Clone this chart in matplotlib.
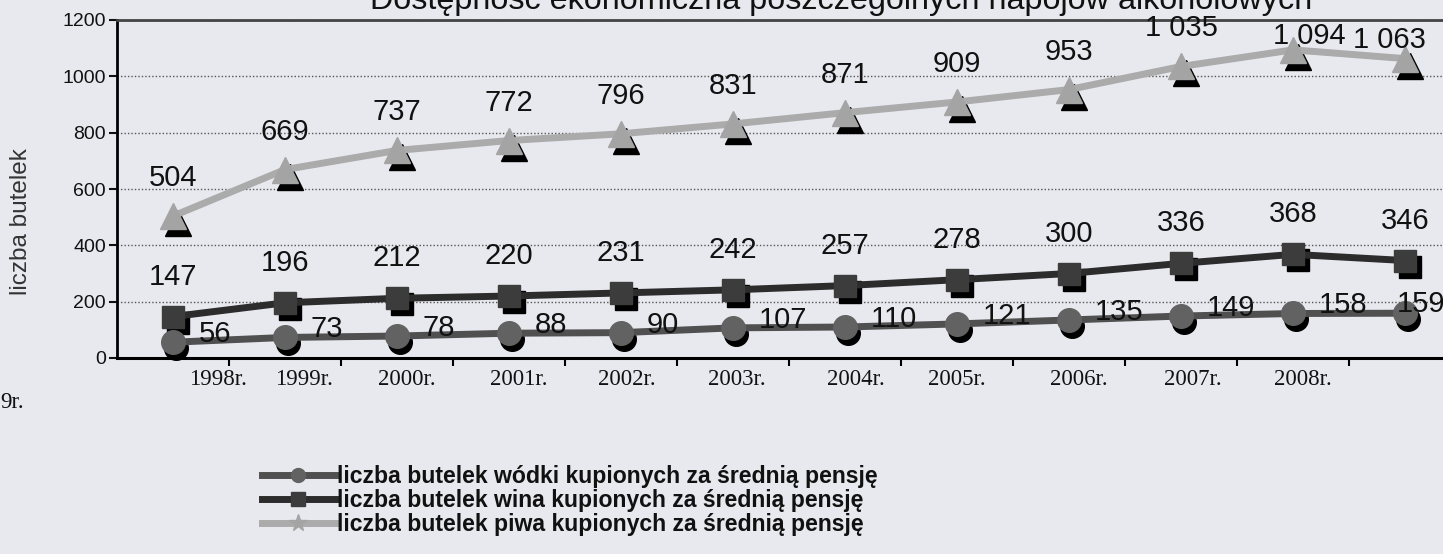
import numpy as np
import matplotlib
matplotlib.use("Agg")
import matplotlib.pyplot as plt
from matplotlib.transforms import offset_copy, ScaledTranslation
from matplotlib.lines import Line2D

# ---------------- data ----------------
years = ["1998r.", "1999r.", "2000r.", "2001r.", "2002r.", "2003r.",
         "2004r.", "2005r.", "2006r.", "2007r.", "2008r.", "2009r."]
vodka = [56, 73, 78, 88, 90, 107, 110, 121, 135, 149, 158, 159]
wine = [147, 196, 212, 220, 231, 242, 257, 278, 300, 336, 368, 346]
beer = [504, 669, 737, 772, 796, 831, 871, 909, 953, 1035, 1094, 1063]
y_ticks = [0, 200, 400, 600, 800, 1000, 1200]
title = "Dostępność ekonomiczna poszczególnych napojów alkoholowych"
ylabel = "liczba butelek"
wrapped_label = "9r."   # tail of the last year's label, wrapped to the left edge
legend_labels = ["liczba butelek wódki kupionych za średnią pensję",
                 "liczba butelek wina kupionych za średnią pensję",
                 "liczba butelek piwa kupionych za średnią pensję"]

# ---------------- style ----------------
W, H = 1443, 554
BG = "#e8e9ef"
plt.rcParams["font.family"] = ["Liberation Sans", "DejaVu Sans"]

def fmt(v):
    return f"{v:,}".replace(",", " ")

fig = plt.figure(figsize=(W / 100, H / 100), dpi=100)
fig.patch.set_facecolor(BG)
ax = fig.add_axes([117 / W, 1 - 358 / H, 1344 / W, 338 / H])
ax.set_facecolor(BG)

x = np.arange(len(years))
ax.set_xlim(-0.5, len(years) - 0.5)
ax.set_ylim(0, 1200)

def shadow(vals, marker, ms, dx, dy, z):
    tr = offset_copy(ax.transData, fig=fig, x=dx, y=dy, units="dots")
    ax.plot(x, vals, ls="none", marker=marker, ms=ms, color="black",
            mec="black", transform=tr, zorder=z, clip_on=False)

# beer
shadow(beer, "^", 19, 5, -7, 3)
ax.plot(x, beer, color="#ababab", lw=5, marker="^", ms=19, mfc="#a4a4a4",
        mec="#a4a4a4", zorder=4, clip_on=False)
# wine
shadow(wine, "s", 16, 5, -6, 5)
ax.plot(x, wine, color="#2c2c2c", lw=5, marker="s", ms=16, mfc="#3c3c3c",
        mec="#3c3c3c", zorder=6, clip_on=False)
# vodka
shadow(vodka, "o", 17, 3, -6, 7)
ax.plot(x, vodka, color="#505050", lw=5, marker="o", ms=17, mfc="#626262",
        mec="#626262", zorder=8, clip_on=False)

# data labels
lab_fs = 21
for i, v in enumerate(beer):
    off = (0, 38)
    if i == 10:
        off = (16, 14)
    if i == 11:
        off = (-16, 19)
    ax.annotate(fmt(v), (x[i], v), xytext=off, textcoords="offset pixels",
                ha="center", va="center", fontsize=lab_fs, color="#111111",
                zorder=10, annotation_clip=False)
for i, v in enumerate(wine):
    ax.annotate(fmt(v), (x[i], v), xytext=(0, 40), textcoords="offset pixels",
                ha="center", va="center", fontsize=lab_fs, color="#111111",
                zorder=10, annotation_clip=False)
for i, v in enumerate(vodka):
    off = (26, 8) if i < len(vodka) - 1 else (-8, 9)
    ax.annotate(fmt(v), (x[i], v), xytext=off, textcoords="offset pixels",
                ha="left", va="center", fontsize=lab_fs, color="#111111",
                zorder=10, annotation_clip=False)

# axes styling
ax.spines["right"].set_visible(False)
ax.spines["left"].set_linewidth(2)
ax.spines["bottom"].set_linewidth(2.2)
ax.spines["top"].set_linewidth(2)
ax.spines["top"].set_color("#444444")
ax.set_yticks(y_ticks)
ax.set_yticklabels([str(t) for t in y_ticks])
ax.tick_params(axis="y", direction="out", length=6, width=1.5, pad=2,
               labelsize=14, colors="#111111")
ax.yaxis.grid(True, ls=(0, (1, 1.5)), color="#555555", lw=1)
ax.set_axisbelow(True)

# x: boundary ticks, labels at category centres
ax.set_xticks(x[:-1] + 0.5)
ax.set_xticklabels([])
ax.tick_params(axis="x", which="major", direction="out", length=6, width=1.5)
ax.set_xticks(x[:-1], minor=True)
ax.set_xticklabels(years[:-1], minor=True, fontfamily="Liberation Serif",
                   fontsize=16.5)
ax.tick_params(axis="x", which="minor", length=0, pad=8, colors="#111111")
nudges = [45, 19, 10, 10, 6, 4, 11, 0, 10, 12, 10]
for lab, dx in zip(ax.get_xticklabels(minor=True), nudges):
    lab.set_transform(lab.get_transform() +
                      ScaledTranslation(dx / 100, 0, fig.dpi_scale_trans))
fig.text(0 / W, 1 - 403 / H, wrapped_label, ha="left", va="center",
         fontfamily="Liberation Serif", fontsize=16.5, color="#111111")

# y label
fig.text(21 / W, 1 - 222 / H, ylabel, rotation=90, ha="center", va="center",
         fontsize=17.5, color="#333333")

# title (top cut off, as in the scan)
fig.text(841 / W, 1 - 9 / H, title, ha="center", va="baseline",
         fontsize=23.3, color="#111111")

# legend
handles = [
    Line2D([], [], color="#505050", lw=5, marker="o", ms=10, mfc="#626262", mec="#626262"),
    Line2D([], [], color="#2c2c2c", lw=5, marker="s", ms=10, mfc="#3c3c3c", mec="#3c3c3c"),
    Line2D([], [], color="#ababab", lw=5, marker="*", ms=13, mfc="#a4a4a4", mec="#a4a4a4"),
]
leg = fig.legend(handles, legend_labels, loc="upper left",
                 bbox_to_anchor=(262 / W, 1 - 465 / H), frameon=False,
                 prop={"size": 16.6, "weight": "bold"}, handlelength=3.15,
                 handletextpad=0.1, labelspacing=0.05, borderpad=0,
                 borderaxespad=0)
for t in leg.get_texts():
    t.set_color("#111111")

fig.savefig("out.png", dpi=100, facecolor=BG)
